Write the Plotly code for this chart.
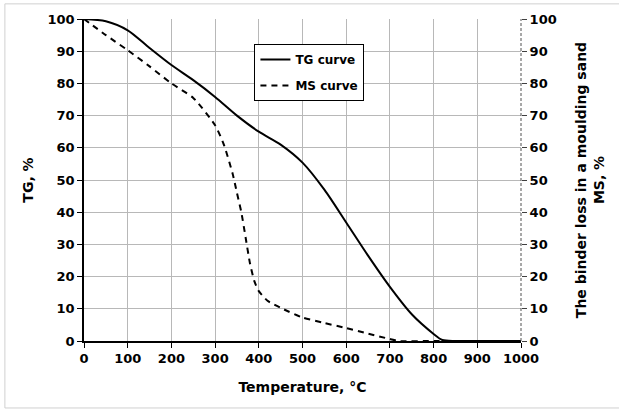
import plotly.graph_objects as go

# Temperature, °C
tg_temp = [0, 50, 100, 150, 200, 250, 300, 350, 400, 450, 500, 550, 600, 650, 700, 750, 800, 820, 850, 900, 950, 1000]
tg_vals = [100, 99.3, 96.5, 91, 85.7, 81, 75.8, 70, 65, 61, 55.4, 47, 36.8, 26.5, 16.8, 8.3, 2.2, 0.3, 0, 0, 0, 0]

ms_temp = [0, 50, 100, 150, 200, 250, 300, 320, 340, 350, 360, 370, 380, 390, 400, 420, 450, 500, 550, 600, 650, 700, 720, 800, 900, 1000]
ms_vals = [100, 95, 90.3, 85.3, 80, 75.5, 67, 61, 52, 46, 40, 32, 24, 18.5, 15.5, 12.5, 10.3, 7.3, 5.6, 4, 2.3, 0.6, 0, 0, 0, 0]

x_ticks = list(range(0, 1001, 100))
y_ticks = list(range(0, 101, 10))

FONT = "DejaVu Sans"
fig = go.Figure()
fig.add_trace(go.Scatter(x=tg_temp, y=tg_vals, name="TG curve", mode="lines", legendgroup="tg",
                         line=dict(color="black", width=2, shape="spline", smoothing=0.8)))
fig.add_trace(go.Scatter(x=ms_temp, y=ms_vals, name="MS curve", mode="lines", yaxis="y2", legendgroup="ms",
                         line=dict(color="black", width=2, dash="6px,5px", shape="spline", smoothing=0.6)))

grid = "#b8b8b8"
fig.update_layout(
    width=619, height=410,
    margin=dict(l=84, r=98, t=19, b=69),
    paper_bgcolor="white", plot_bgcolor="white",
    font=dict(family=FONT, size=13, color="black", weight="bold"),
    showlegend=True,
    legend=dict(x=0.39, y=0.922, xanchor="left", yanchor="top",
                bordercolor="black", borderwidth=1, bgcolor="white",
                font=dict(family=FONT, size=12, weight="bold"), itemwidth=30,
                tracegroupgap=7, entrywidth=96, entrywidthmode="pixels"),
    xaxis=dict(range=[0, 1000], tickvals=x_ticks, showgrid=True, gridcolor=grid, gridwidth=1,
               showline=True, linecolor="black", linewidth=1.5, ticks="outside", ticklen=5,
               tickcolor="black", zeroline=False,
               title=dict(text="Temperature, °C", font=dict(size=14, weight="bold"), standoff=17)),
    yaxis=dict(range=[0, 100], tickvals=y_ticks, showgrid=True, gridcolor=grid, gridwidth=1,
               showline=True, linecolor="black", linewidth=1.5, ticks="outside", ticklen=5,
               tickcolor="black", zeroline=False,
               title=dict(text="TG, %", font=dict(size=14, weight="bold"), standoff=11)),
    yaxis2=dict(range=[0, 100], tickvals=y_ticks, overlaying="y", side="right", showgrid=False,
                showline=False, ticks="outside", ticklen=5, tickcolor="#404040", zeroline=False,
                title=dict(text="The binder loss in a moulding sand<br>MS, %",
                           font=dict(size=14, weight="bold"), standoff=20)),
    shapes=[
        dict(type="line", xref="paper", yref="paper", x0=1, x1=1, y0=0, y1=1,
             line=dict(color="#505050", width=1, dash="3px,2px")),
        dict(type="rect", xref="paper", yref="paper", x0=-0.181, x1=1.245, y0=-0.208, y1=1.047,
             line=dict(color="#d0d0d0", width=1), layer="below"),
    ],
)

fig.write_html("out.html")
